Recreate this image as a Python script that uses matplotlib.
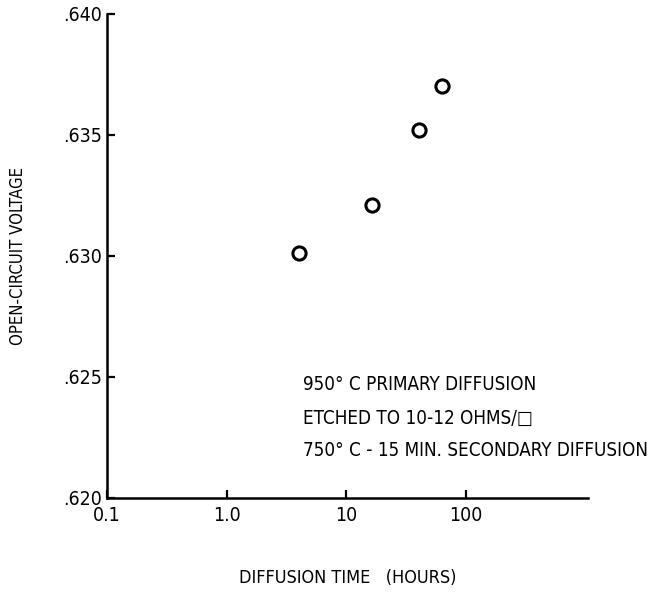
import matplotlib
matplotlib.use('Agg')
import matplotlib.pyplot as plt

plt.rcParams['font.family'] = ['DejaVu Sans']
plt.rcParams['font.stretch'] = 'condensed'

# diffusion time (hours) vs open-circuit voltage
hours = [4, 16.5, 40.5, 63]
voc = [0.6301, 0.6321, 0.6352, 0.6370]

xticks = [0.1, 1.0, 10, 100]
xlabels = ['0.1', '1.0', '10', '100']
yticks = [0.620, 0.625, 0.630, 0.635, 0.640]
ylabels = ['.620', '.625', '.630', '.635', '.640']

notes = ['950° C PRIMARY DIFFUSION',
         'ETCHED TO 10-12 OHMS/□',
         '750° C - 15 MIN. SECONDARY DIFFUSION']

fig = plt.figure(figsize=(6.53, 5.92), dpi=100)
ax = fig.add_axes([0.164, 0.159, 0.737, 0.818])

ax.plot(hours, voc, 'o', ms=9.5, mfc='white', mec='black', mew=2.2, ls='none')

ax.set_xscale('log')
ax.set_xlim(0.1, 1050)
ax.set_ylim(0.620, 0.640)
ax.set_xticks(xticks)
ax.set_xticklabels(xlabels, fontsize=14)
ax.set_yticks(yticks)
ax.set_yticklabels(ylabels, fontsize=14)
ax.minorticks_off()
ax.tick_params(direction='in', length=6, width=1.6)
ax.tick_params(axis='x', pad=6)
ax.tick_params(axis='y', pad=4)

for s in ['top', 'right']:
    ax.spines[s].set_visible(False)
for s in ['left', 'bottom']:
    ax.spines[s].set_linewidth(1.8)

ax.set_xlabel('DIFFUSION TIME   (HOURS)', fontsize=13)
ax.set_ylabel('OPEN-CIRCUIT VOLTAGE', fontsize=12)
ax.xaxis.set_label_coords(0.499, -0.147)
ax.yaxis.set_label_coords(-0.166, 0.5)

for i, t in enumerate(notes):
    fig.text(303 / 653, 1 - (385 + 33 * i) / 592, t, fontsize=13.5, va='center', ha='left')

fig.savefig('out.png', dpi=100, facecolor='white')
